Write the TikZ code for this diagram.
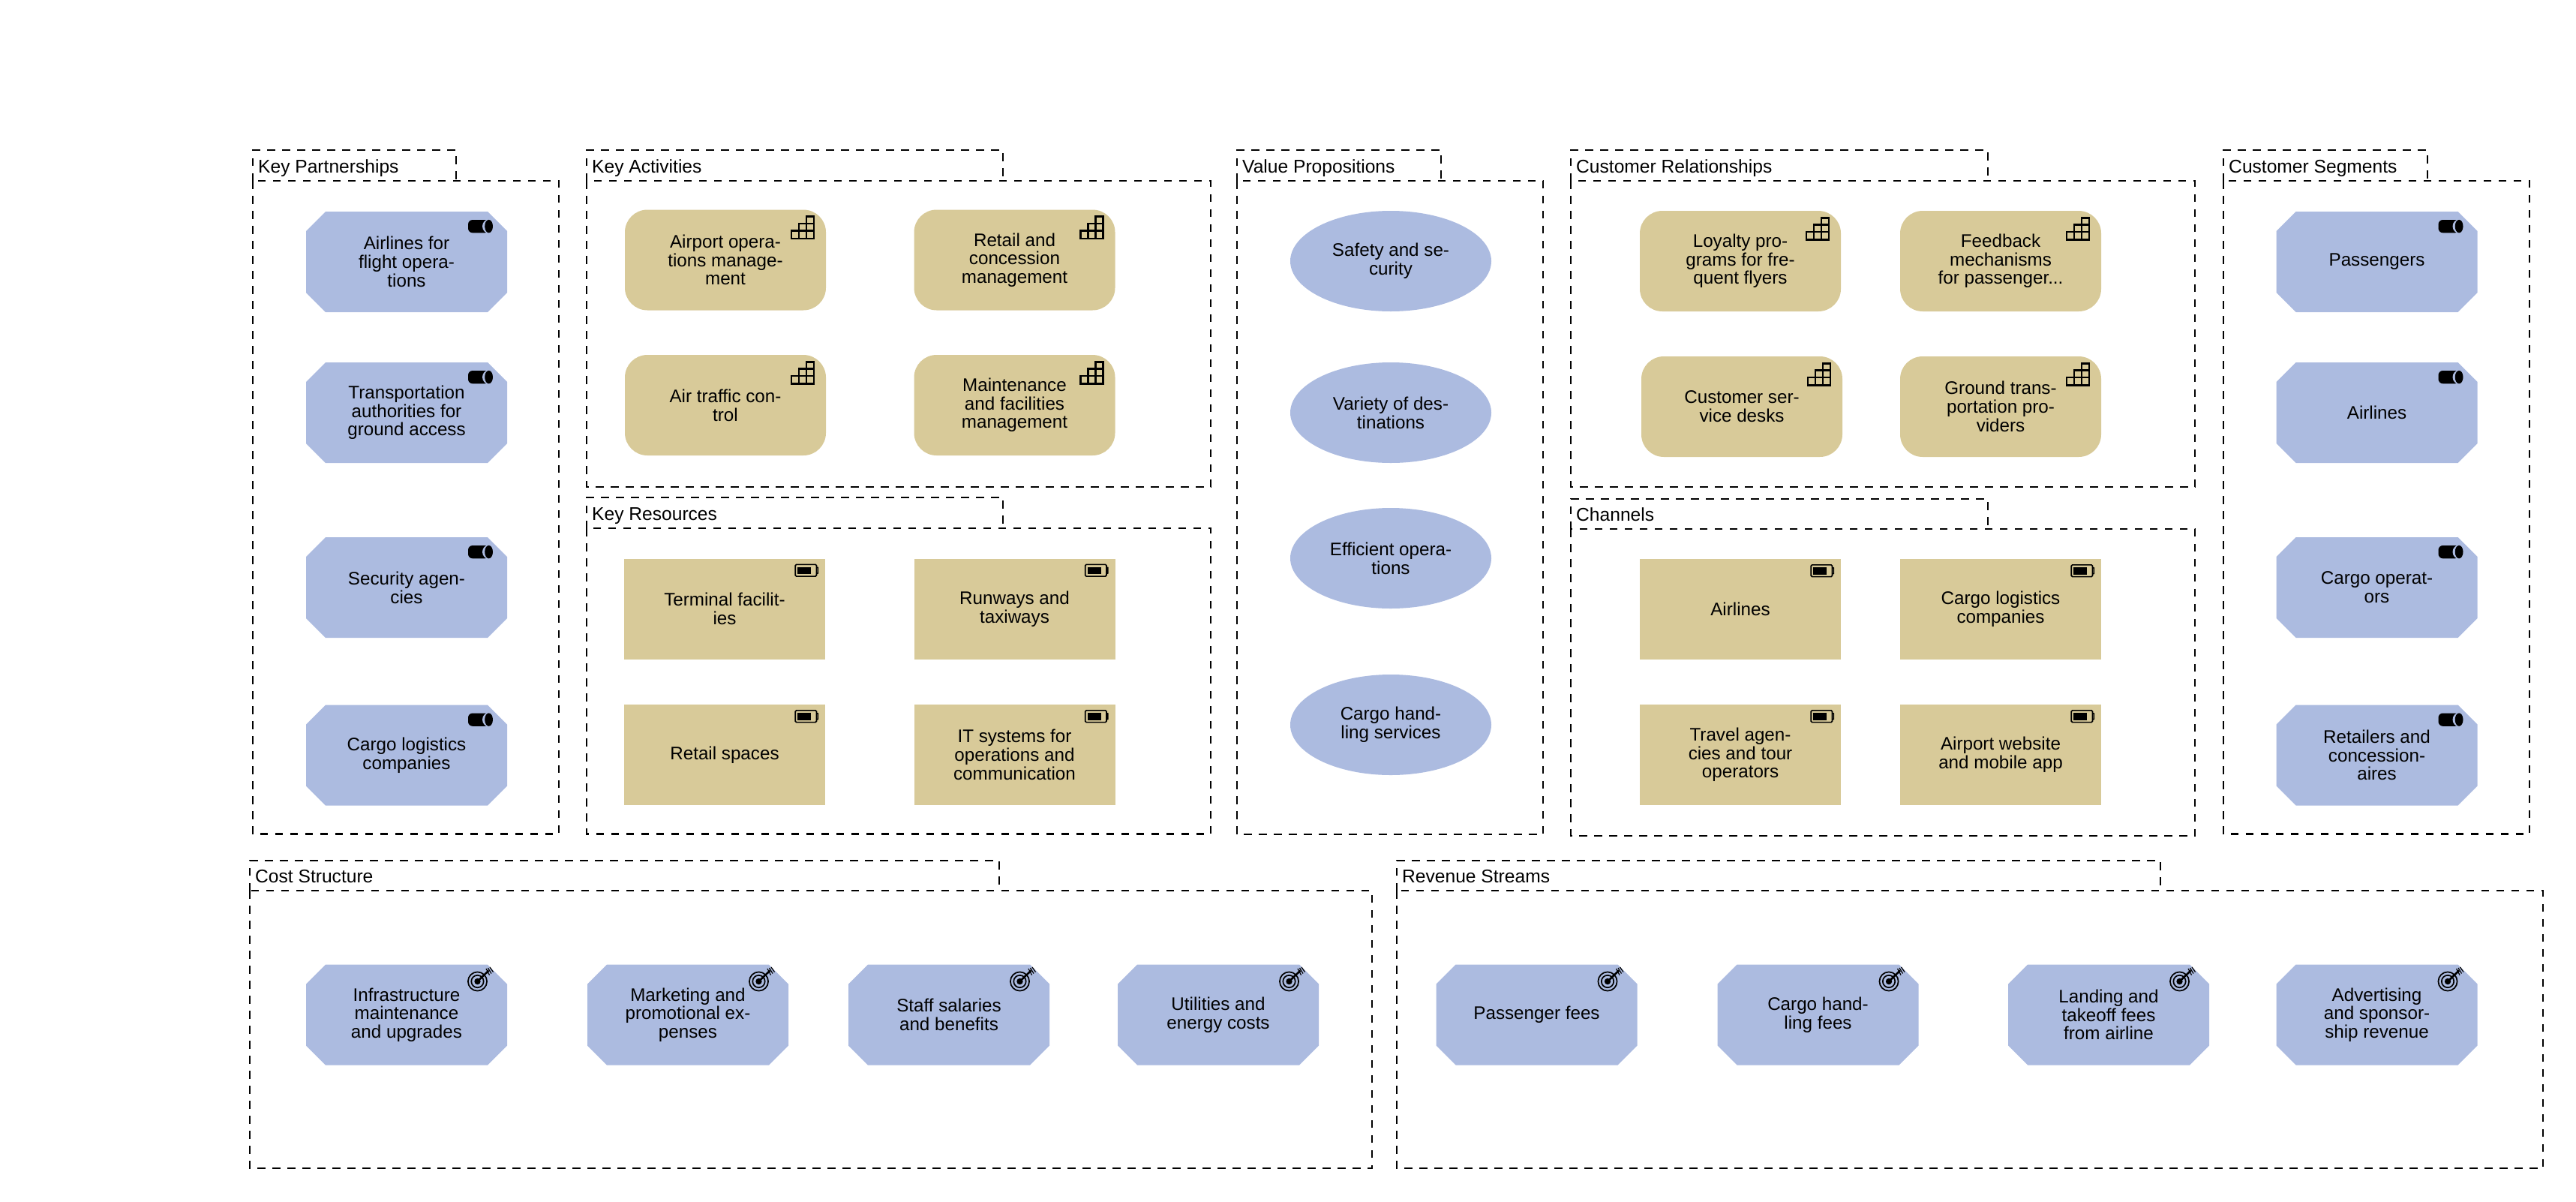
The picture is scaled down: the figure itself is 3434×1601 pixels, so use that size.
\documentclass[tikz,border=0pt]{standalone}
\usepackage{fontspec}
\setmainfont{Liberation Sans}
\usetikzlibrary{shapes.geometric}
\definecolor{bluefill}{HTML}{ACBBE0}
\definecolor{tanfill}{HTML}{D8CA99}
\tikzset{
  x=1pt,y=-1pt,
  grpline/.style={line width=2.2pt,dash pattern=on 10.5pt off 9.5pt,black},
  grptitle/.style={anchor=base west,inner sep=0pt,font=\fontsize{24.6}{26}\selectfont},
  elem/.style={minimum width=268pt,minimum height=134pt,inner sep=0pt,align=center,anchor=center,
    font=\fontsize{24.2}{24.7}\selectfont},
  octa/.style={elem,rectangle},
  pill/.style={elem,fill=tanfill,rectangle,rounded corners=30pt},
  boxy/.style={elem,fill=tanfill,rectangle},
  oval/.style={elem,fill=bluefill,ellipse},
  icoline/.style={line width=2.8pt,black},
}
% group: name, x1, tabright, x2, tabtop, bodytop, bottom, title
\newcommand\grp[8]{%
  \draw[grpline] (#2,#6) -- (#2,#5) -- (#3,#5) -- (#3,#6);
  \draw[grpline] (#2,#6) rectangle (#4,#7);
  \node[grptitle] (#1) at (#2+7,#6-11) {#8};
}
\newcommand\iconCyl[2]{\begin{scope}[shift={(#1+268,#2)}]
  \fill[black,rounded corners=6pt] (-52,11) rectangle (-24,28.3);
  \fill[bluefill] (-24.4,19.6) ellipse [x radius=8.6,y radius=9.2];
  \fill[black] (-24.4,19.6) ellipse [x radius=5.4,y radius=8.7];
\end{scope}}
\newcommand\iconStairs[2]{\begin{scope}[shift={(#1+268,#2)}]
  \draw[icoline,line join=miter] (-46,38.4) -- (-46,28) -- (-36,28) -- (-36,18.5) -- (-26,18.5) -- (-26,9.2) -- (-16,9.2) -- (-16,38.4) -- cycle;
  \draw[icoline] (-46,28) -- (-16,28) (-36,18.5) -- (-16,18.5) (-36,28) -- (-36,38.4) (-26,18.5) -- (-26,38.4);
\end{scope}}
\newcommand\iconBatt[2]{\begin{scope}[shift={(#1+268,#2)}]
  \draw[line width=1.6pt,black,rounded corners=1.5pt] (-39.8,7.8) rectangle (-11.5,23.6);
  \draw[line width=1.6pt,black] (-11.5,11.5) -- (-9.6,12) -- (-9.6,19.4) -- (-11.5,20);
  \fill[black] (-37,11) rectangle (-19,20.5);
\end{scope}}
\newcommand\iconTarget[2]{\begin{scope}[shift={(#1+268,#2)}]
  \draw[line width=1.7pt,black] (-39.5,22.5) circle [radius=12.6];
  \draw[line width=1.7pt,black] (-39.5,22.5) circle [radius=8.2];
  \fill[black] (-39.5,22.5) circle [radius=4.2];
  \draw[line width=2.6pt,black] (-39.5,22.5) -- (-24.5,8);
  \draw[line width=1.2pt,black] (-28,5.5) -- (-23.5,14) (-25.5,4.5) -- (-21,12) (-23,3.5) -- (-18.5,10);
\end{scope}}
\newcommand\octshape[2]{\fill[bluefill] (#1+26,#2) -- (#1+242,#2) -- (#1+268,#2+26) -- (#1+268,#2+108) -- (#1+242,#2+134) -- (#1+26,#2+134) -- (#1,#2+108) -- (#1,#2+26) -- cycle;}
% element: style, name, x, y, text, icon
\newcommand\elm[6]{\node[#1] (#2) at (#3+134,#4+67) {#5}; #6{#3}{#4}}
\newcommand\oct[5]{\octshape{#2}{#3}\elm{octa}{#1}{#2}{#3}{#4}{#5}}
\begin{document}
\begin{tikzpicture}
\useasboundingbox (0,0) rectangle (3434,1601);
\grp{gkp}{337}{608}{745}{200}{241}{1111.5}{Key Partnerships}
\grp{gka}{782}{1337}{1614}{200}{241}{649}{Key Activities}
\grp{gkr}{782}{1337}{1614}{663}{704}{1111.5}{Key Resources}
\grp{gvp}{1649}{1921}{2057}{200}{241}{1112}{Value Propositions}
\grp{gcr}{2094}{2650}{2926}{200}{241}{649}{Customer Relationships}
\grp{gch}{2094}{2650}{2926}{665}{705}{1114}{Channels}
\grp{gcs}{2964}{3236}{3372}{200}{241}{1111.5}{Customer Segments}
\grp{gcost}{333}{1332}{1829}{1147}{1187}{1557}{Cost Structure}
\grp{grev}{1862}{2880}{3390}{1147}{1187}{1557}{Revenue Streams}

\oct{p1}{408}{282}{Airlines for\\flight opera-\\tions}{\iconCyl}
\oct{p2}{408}{483}{Transportation\\authorities for\\ground access}{\iconCyl}
\oct{p3}{408}{716}{Security agen-\\cies}{\iconCyl}
\oct{p4}{408}{939.5}{Cargo logistics\\companies}{\iconCyl}

\elm{pill}{a1}{833}{279.5}{Airport opera-\\tions manage-\\ment}{\iconStairs}
\elm{pill}{a2}{1218.5}{279.5}{Retail and\\concession\\management}{\iconStairs}
\elm{pill}{a3}{833}{473}{Air traffic con-\\trol}{\iconStairs}
\elm{pill}{a4}{1218.5}{473}{Maintenance\\and facilities\\management}{\iconStairs}

\elm{boxy}{r1}{832}{744.5}{Terminal facilit-\\ies}{\iconBatt}
\elm{boxy}{r2}{1218.5}{744.5}{Runways and\\taxiways}{\iconBatt}
\elm{boxy}{r3}{832}{939}{Retail spaces}{\iconBatt}
\elm{boxy}{r4}{1218.5}{939}{IT systems for\\operations and\\communication}{\iconBatt}

\node[oval] (v1) at (1720+134,281+67) {Safety and se-\\curity};
\node[oval] (v2) at (1720+134,483+67) {Variety of des-\\tinations};
\node[oval] (v3) at (1720+134,677+67) {Efficient opera-\\tions};
\node[oval] (v4) at (1720+134,899+67) {Cargo hand-\\ling services};

\elm{pill}{c1}{2186}{281}{Loyalty pro-\\grams for fre-\\quent flyers}{\iconStairs}
\elm{pill}{c2}{2533}{281}{Feedback\\mechanisms\\for passenger...}{\iconStairs}
\elm{pill}{c3}{2188}{475}{Customer ser-\\vice desks}{\iconStairs}
\elm{pill}{c4}{2533}{475}{Ground trans-\\portation pro-\\viders}{\iconStairs}

\elm{boxy}{h1}{2186}{745}{Airlines}{\iconBatt}
\elm{boxy}{h2}{2533}{745}{Cargo logistics\\companies}{\iconBatt}
\elm{boxy}{h3}{2186}{939}{Travel agen-\\cies and tour\\operators}{\iconBatt}
\elm{boxy}{h4}{2533}{939}{Airport website\\and mobile app}{\iconBatt}

\oct{s1}{3034.5}{282}{Passengers}{\iconCyl}
\oct{s2}{3034.5}{483}{Airlines}{\iconCyl}
\oct{s3}{3034.5}{716}{Cargo operat-\\ors}{\iconCyl}
\oct{s4}{3034.5}{939.5}{Retailers and\\concession-\\aires}{\iconCyl}

\oct{k1}{408}{1285.5}{Infrastructure\\maintenance\\and upgrades}{\iconTarget}
\oct{k2}{783}{1285.5}{Marketing and\\promotional ex-\\penses}{\iconTarget}
\oct{k3}{1131}{1285.5}{Staff salaries\\and benefits}{\iconTarget}
\oct{k4}{1490}{1285.5}{Utilities and\\energy costs}{\iconTarget}

\oct{e1}{1914.5}{1285.5}{Passenger fees}{\iconTarget}
\oct{e2}{2289.5}{1285.5}{Cargo hand-\\ling fees}{\iconTarget}
\oct{e3}{2677}{1285.5}{Landing and\\takeoff fees\\from airline}{\iconTarget}
\oct{e4}{3034.5}{1285.5}{Advertising\\and sponsor-\\ship revenue}{\iconTarget}
\end{tikzpicture}
\end{document}
